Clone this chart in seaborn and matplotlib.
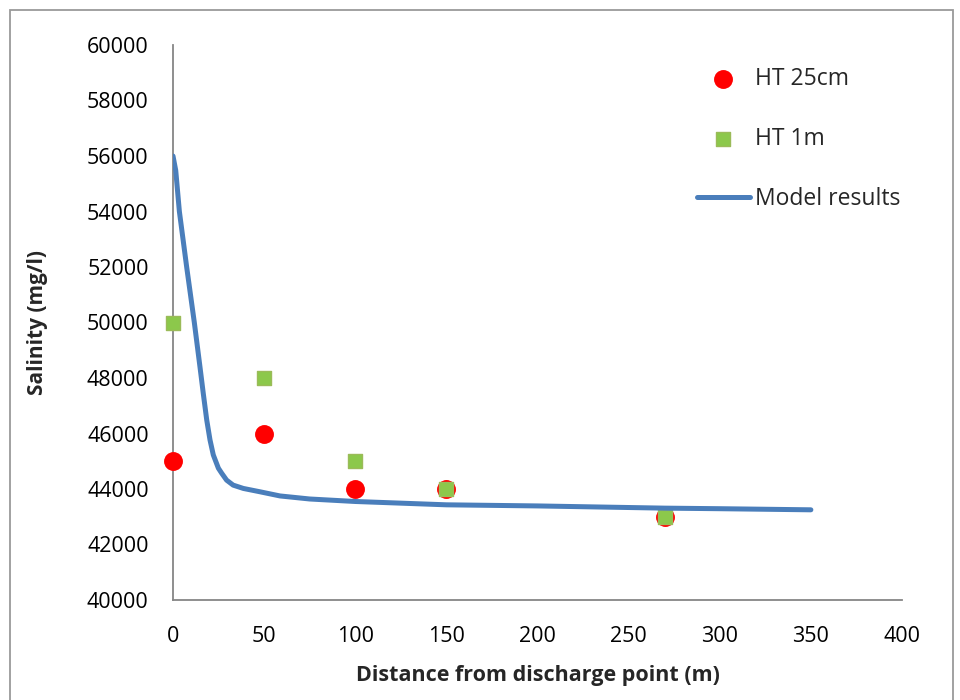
import numpy as np
import pandas as pd
import matplotlib
matplotlib.use("Agg")
import matplotlib.pyplot as plt
import seaborn as sns
from matplotlib.patches import Rectangle

# Data
obs_distance = [0, 50, 100, 150, 270]
ht_25cm = [45000, 46000, 44000, 44000, 43000]
ht_1m = [50000, 48000, 45000, 44000, 43000]

model_distance = [0, 1.5, 3.5, 7.5, 11.7, 14.8, 16.6, 18.5, 20.3, 22.1, 24.9, 26.7,
                  29.4, 33, 38.6, 47.7, 58.7, 75, 100, 150, 200, 270, 300, 350]
model_salinity = [56000, 55480, 54000, 52000, 50000, 48400, 47450, 46490, 45770,
                  45230, 44750, 44570, 44320, 44140, 44020, 43900, 43750, 43640,
                  43550, 43430, 43390, 43310, 43290, 43250]

x_ticks = [0, 50, 100, 150, 200, 250, 300, 350, 400]
y_ticks = [40000, 42000, 44000, 46000, 48000, 50000, 52000, 54000, 56000, 58000, 60000]

sns.set_theme(style="white")
plt.rcParams['font.family'] = ['Open Sans', 'DejaVu Sans']

fig = plt.figure(figsize=(9.6, 7.0), dpi=100)
ax = fig.add_axes([173/960, 1-600/700, (902-173)/960, (600-45)/700])

obs = pd.DataFrame({"d": obs_distance, "a": ht_25cm, "b": ht_1m})
model = pd.DataFrame({"d": model_distance, "s": model_salinity})

sns.scatterplot(data=obs, x="d", y="a", ax=ax, marker="o", s=185, color="#ff0000",
                edgecolor="#ff0000", linewidth=0, label="HT 25cm", zorder=3, clip_on=False)
sns.scatterplot(data=obs, x="d", y="b", ax=ax, marker="s", s=110, color="#8cc84b",
                edgecolor="#9bbb59", linewidth=1.0, label="HT 1m", zorder=4, clip_on=False)
sns.lineplot(data=model, x="d", y="s", ax=ax, color="#4a7ebb", linewidth=3.6,
             label="Model results", zorder=5, solid_capstyle="round", solid_joinstyle="round")

ax.set_xlim(0, 400)
ax.set_ylim(40000, 60000)
ax.set_xticks(x_ticks)
ax.set_yticks(y_ticks)
ax.set_xticklabels([str(v) for v in x_ticks])
ax.set_yticklabels([str(v) for v in y_ticks])

gray = "#868686"
for s in ["top", "right"]:
    ax.spines[s].set_visible(False)
for s in ["left", "bottom"]:
    ax.spines[s].set_color(gray)
    ax.spines[s].set_linewidth(1.3)
ax.tick_params(axis="both", which="major", direction="out", length=5.5, width=1.2,
               color=gray, labelsize=15.5, labelcolor="black")
ax.tick_params(axis="y", pad=12)
ax.tick_params(axis="x", pad=13)
ax.grid(False)

ax.set_xlabel("Distance from discharge point (m)", fontsize=15.5, fontweight="bold", labelpad=13)
ax.set_ylabel("Salinity (mg/l)", fontsize=15, fontweight="bold", labelpad=28)

leg = ax.legend(loc="upper left", bbox_to_anchor=(697/960, 1-67/700), bbox_transform=fig.transFigure,
                frameon=False, fontsize=16.5, handlelength=2.3, handletextpad=0.22,
                labelspacing=1.58, borderpad=0, borderaxespad=0)

fig.patches.append(Rectangle((10/960, -0.05), (953-10)/960, 1.05-10/700, transform=fig.transFigure,
                             fill=False, edgecolor="#9a9a9a", linewidth=1.3, zorder=0))

fig.savefig("out.png", dpi=100)
